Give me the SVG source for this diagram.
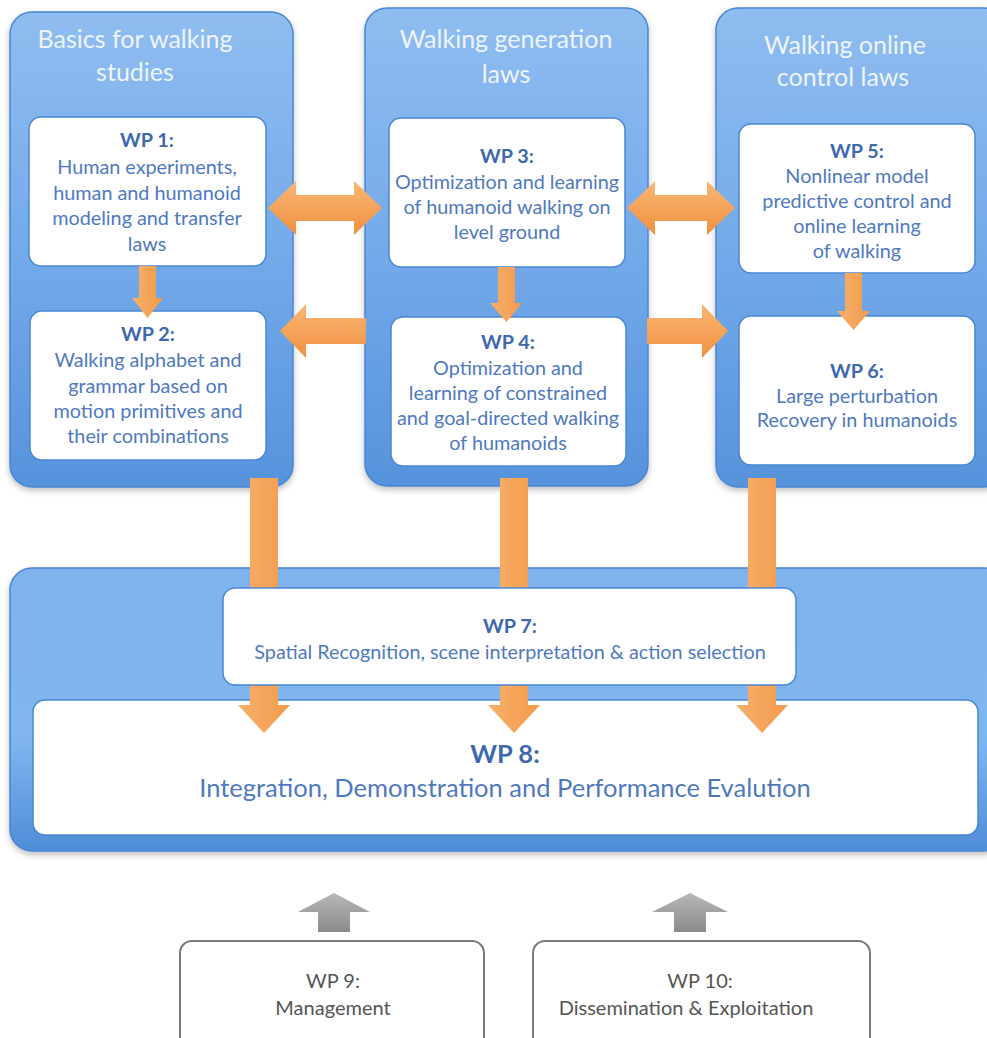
<svg xmlns="http://www.w3.org/2000/svg" width="987" height="1038" viewBox="0 0 987 1038">
<defs>
<linearGradient id="panel" x1="0" y1="0" x2="0" y2="1">
<stop offset="0" stop-color="#8fbdf0"/>
<stop offset="0.5" stop-color="#74aaea"/>
<stop offset="1" stop-color="#5693dc"/>
</linearGradient>
<linearGradient id="panelB" x1="0" y1="0" x2="0" y2="1">
<stop offset="0" stop-color="#7fb3ee"/>
<stop offset="0.6" stop-color="#80b6f0"/>
<stop offset="1" stop-color="#4f8dd8"/>
</linearGradient>
<linearGradient id="orH" x1="0" y1="0" x2="0" y2="1">
<stop offset="0" stop-color="#f8b774"/>
<stop offset="1" stop-color="#f09040"/>
</linearGradient>
<linearGradient id="orV" x1="0" y1="0" x2="1" y2="0">
<stop offset="0" stop-color="#f7b06a"/>
<stop offset="1" stop-color="#f39a4c"/>
</linearGradient>
<linearGradient id="gray" x1="0" y1="0" x2="0" y2="1">
<stop offset="0" stop-color="#b8b8b8"/>
<stop offset="1" stop-color="#8a8a8a"/>
</linearGradient>
<filter id="sh" x="-10%" y="-10%" width="120%" height="120%">
<feDropShadow dx="0" dy="3" stdDeviation="3" flood-color="#000" flood-opacity="0.25"/>
</filter>
</defs>
<style>
.panel{fill:url(#panel);stroke:#4a86d2;stroke-width:1.5}
.box{fill:#ffffff;stroke:#4a86d2;stroke-width:1.5}
.gbox{fill:#ffffff;stroke:#7a7a7a;stroke-width:2}
.title{font-family:Lato,"Open Sans",sans-serif;font-size:25px;fill:#eef4fc;text-anchor:middle}
.t{font-family:Lato,"Open Sans",sans-serif;font-size:19.8px;fill:#4f79bf;text-anchor:middle}
.b{font-weight:bold;fill:#3e69ad}
.big{font-size:25.5px}
.g{font-family:Lato,"Open Sans",sans-serif;font-size:20px;fill:#555555;text-anchor:middle}
.oh{fill:url(#orH)}
.ov{fill:url(#orV)}
.ga{fill:url(#gray)}
</style>

<g id="panel-basics">
<rect class="panel" x="10" y="12" width="283" height="475" rx="22" filter="url(#sh)"/>
<text class="title" x="135" y="48">Basics for walking</text>
<text class="title" x="135" y="81">studies</text>
</g>
<g id="panel-generation">
<rect class="panel" x="365" y="8" width="283" height="478" rx="22" filter="url(#sh)"/>
<text class="title" x="506" y="48">Walking generation</text>
<text class="title" x="506" y="83">laws</text>
</g>
<g id="panel-online">
<rect class="panel" x="716" y="8" width="290" height="479" rx="22" filter="url(#sh)"/>
<text class="title" x="845" y="54">Walking online</text>
<text class="title" x="843" y="86">control laws</text>
</g>
<g id="panel-bottom">
<rect x="10" y="568" width="996" height="283" rx="22" fill="url(#panelB)" stroke="#4a86d2" stroke-width="1.5" filter="url(#sh)"/>
</g>

<g id="wp1">
<rect class="box" x="29" y="117" width="237" height="149" rx="12"/>
<text class="t b" x="147" y="147">WP 1:</text>
<text class="t" x="147" y="174">Human experiments,</text>
<text class="t" x="147" y="200">human and humanoid</text>
<text class="t" x="147" y="225">modeling and transfer</text>
<text class="t" x="147" y="251">laws</text>
</g>
<g id="wp2">
<rect class="box" x="30" y="311" width="236" height="149" rx="12"/>
<text class="t b" x="148" y="341">WP 2:</text>
<text class="t" x="148" y="367">Walking alphabet and</text>
<text class="t" x="148" y="393">grammar based on</text>
<text class="t" x="148" y="418">motion primitives and</text>
<text class="t" x="148" y="443">their combinations</text>
</g>
<g id="wp3">
<rect class="box" x="389" y="118" width="236" height="149" rx="12"/>
<text class="t b" x="507" y="163">WP 3:</text>
<text class="t" x="507" y="189">Optimization and learning</text>
<text class="t" x="507" y="214">of humanoid walking on</text>
<text class="t" x="507" y="239">level ground</text>
</g>
<g id="wp4">
<rect class="box" x="391" y="317" width="235" height="149" rx="12"/>
<text class="t b" x="508" y="349">WP 4:</text>
<text class="t" x="508" y="375">Optimization and</text>
<text class="t" x="508" y="400">learning of constrained</text>
<text class="t" x="508" y="425">and goal-directed walking</text>
<text class="t" x="508" y="450">of humanoids</text>
</g>
<g id="wp5">
<rect class="box" x="739" y="124" width="236" height="149" rx="12"/>
<text class="t b" x="857" y="158">WP 5:</text>
<text class="t" x="857" y="183">Nonlinear model</text>
<text class="t" x="857" y="208">predictive control and</text>
<text class="t" x="857" y="233">online learning</text>
<text class="t" x="857" y="258">of walking</text>
</g>
<g id="wp6">
<rect class="box" x="739" y="316" width="236" height="149" rx="12"/>
<text class="t b" x="857" y="378">WP 6:</text>
<text class="t" x="857" y="403">Large perturbation</text>
<text class="t" x="857" y="427">Recovery in humanoids</text>
</g>
<g id="wp8">
<rect class="box" x="33" y="700" width="945" height="135" rx="12"/>
<text class="t b big" x="505" y="763">WP 8:</text>
<text class="t big" x="505" y="797">Integration, Demonstration and Performance Evalution</text>
</g>

<g id="connectors">
<path class="oh" d="M268,208 L296,181 L296,195 L354,195 L354,181 L382,208 L354,235 L354,221 L296,221 L296,235 Z"/>
<path class="oh" d="M627,208 L655,181 L655,195 L707,195 L707,181 L735,208 L707,235 L707,221 L655,221 L655,235 Z"/>
<path class="oh" d="M280,331 L306,304 L306,318 L366,318 L366,344 L306,344 L306,358 Z"/>
<path class="oh" d="M728,331 L702,304 L702,318 L647,318 L647,344 L702,344 L702,358 Z"/>
<path class="ov" d="M139,266 L156,266 L156,298 L163,298 L147.5,318 L132,298 L139,298 Z"/>
<path class="ov" d="M498,267 L515,267 L515,303 L522,303 L506.5,322 L490,303 L498,303 Z"/>
<path class="ov" d="M845,273 L862,273 L862,311 L870,311 L853.5,330 L837,311 L845,311 Z"/>
<path class="ov" d="M250,478 L278,478 L278,705 L290,705 L264,733 L238,705 L250,705 Z"/>
<path class="ov" d="M500,478 L528,478 L528,705 L540,705 L514,733 L488,705 L500,705 Z"/>
<path class="ov" d="M748,478 L776,478 L776,705 L788,705 L762,733 L736,705 L748,705 Z"/>
<path class="ga" d="M318,932 L350,932 L350,912 L370,912 L334,893 L298,912 L318,912 Z"/>
<path class="ga" d="M674,932 L706,932 L706,912 L728,912 L690,893 L652,912 L674,912 Z"/>
</g>

<g id="wp7">
<rect class="box" x="223" y="588" width="573" height="97" rx="12"/>
<text class="t b" x="510" y="633">WP 7:</text>
<text class="t" x="510" y="659">Spatial Recognition, scene interpretation &amp; action selection</text>
</g>
<g id="wp9">
<rect class="gbox" x="180" y="941" width="304" height="110" rx="12"/>
<text class="g" x="333" y="988">WP 9:</text>
<text class="g" x="333" y="1015">Management</text>
</g>
<g id="wp10">
<rect class="gbox" x="533" y="941" width="337" height="110" rx="12"/>
<text class="g" x="700" y="988">WP 10:</text>
<text class="g" x="686" y="1015">Dissemination &amp; Exploitation</text>
</g>
</svg>
